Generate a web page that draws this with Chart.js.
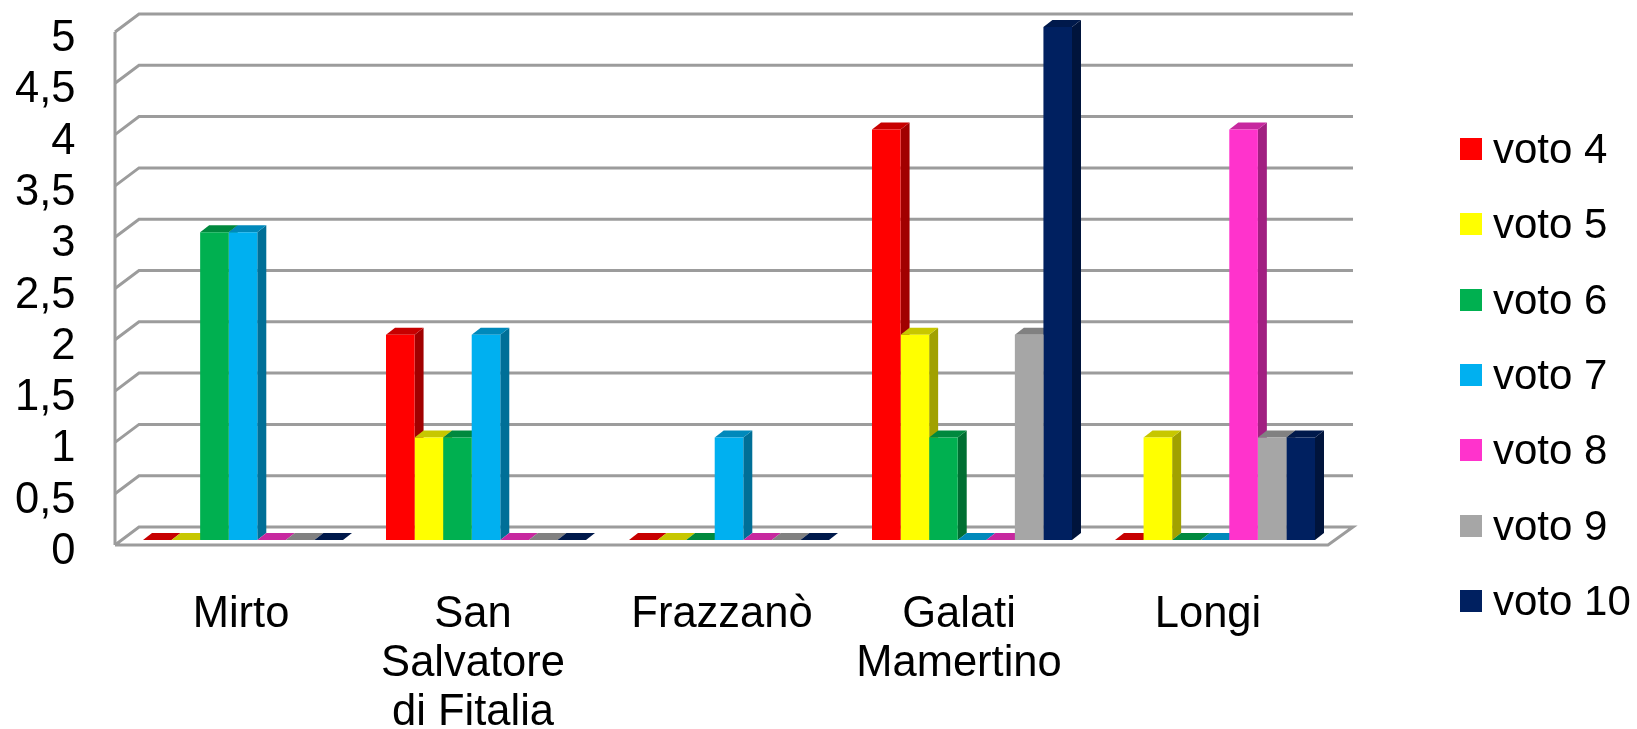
<!DOCTYPE html>
<html>
<head>
<meta charset="utf-8">
<title>Voti</title>
<script src="https://cdn.jsdelivr.net/npm/chart.js@4/dist/chart.umd.min.js"></script>
<style>
  html, body { margin: 0; padding: 0; background: #fff; }
  #wrap { position: relative; width: 1637px; height: 729px; overflow: hidden; filter: blur(0.6px); }
  #chart { position: absolute; left: 0; top: 0; }
  #legend { position: absolute; left: 1460px; top: 111.5px; margin: 0; padding: 0; list-style: none;
    font: 42px "Liberation Sans", Arial, sans-serif; color: #000; }
  #legend li { display: flex; align-items: center; height: 75.3px; white-space: nowrap; }
  #legend i { display: block; width: 22px; height: 22px; margin-right: 11px; }
</style>
</head>
<body>
<div id="wrap">
  <canvas id="chart" width="1637" height="729"></canvas>
  <ul id="legend"></ul>
</div>
<script>
var categories = ['Mirto', ['San', 'Salvatore', 'di Fitalia'], 'Frazzanò', ['Galati', 'Mamertino'], 'Longi'];
var seriesNames = ['voto 4', 'voto 5', 'voto 6', 'voto 7', 'voto 8', 'voto 9', 'voto 10'];
var voto4 = [0, 2, 0, 4, 0];
var voto5 = [0, 1, 0, 2, 1];
var voto6 = [3, 1, 0, 1, 0];
var voto7 = [3, 2, 1, 0, 0];
var voto8 = [0, 0, 0, 0, 4];
var voto9 = [0, 0, 0, 2, 1];
var voto10 = [0, 0, 0, 5, 1];
var seriesValues = [voto4, voto5, voto6, voto7, voto8, voto9, voto10];
var seriesColors = ['#FF0000', '#FFFF00', '#00B050', '#00B0F0', '#FF33CC', '#A6A6A6', '#002060'];
var yTickLabels = ['0', '0,5', '1', '1,5', '2', '2,5', '3', '3,5', '4', '4,5', '5'];

var FONT = '"Liberation Sans", Arial, sans-serif';
var GRID_COLOR = '#9c9c9c';
// the original labels do not sit exactly under their groups
var xLabelNudge = [-2, -13, -7, -13, -7];

// darken a #rrggbb colour, used for the sides and tops of the bars
function shade(hex, k) {
  var r = parseInt(hex.substr(1, 2), 16);
  var g = parseInt(hex.substr(3, 2), 16);
  var b = parseInt(hex.substr(5, 2), 16);
  return 'rgb(' + Math.round(r * k) + ',' + Math.round(g * k) + ',' + Math.round(b * k) + ')';
}

function polygon(ctx, pts, color) {
  ctx.fillStyle = color;
  ctx.beginPath();
  ctx.moveTo(pts[0][0], pts[0][1]);
  for (var i = 1; i < pts.length; i++) {
    ctx.lineTo(pts[i][0], pts[i][1]);
  }
  ctx.closePath();
  ctx.fill();
}

// tall tick labels must not eat into the plot area
function dropScalePadding(scale) {
  scale.paddingTop = 0;
  scale.paddingBottom = 0;
  scale.paddingLeft = 0;
  scale.paddingRight = 0;
}

// walls of the fake 3d box, from the real scales
var framePlugin = {
  id: 'frame',
  beforeDatasetsDraw: function (chart) {
    var ctx = chart.ctx;
    var xs = chart.scales.x;
    var ys = chart.scales.y;
    var frontL = xs.left - 6.5, frontR = xs.right - 8.5;
    var backL = xs.left + 17.5, backR = xs.right + 16.5;
    ctx.save();
    ctx.strokeStyle = GRID_COLOR;
    ctx.lineWidth = 3;
    ctx.lineJoin = 'miter';
    ys.ticks.forEach(function (t) {
      var y = ys.getPixelForValue(t.value);
      ctx.beginPath();
      ctx.moveTo(frontL, y + 5);
      ctx.lineTo(backL, y - 13);
      ctx.lineTo(backR, y - 13);
      if (t.value === 0) {
        ctx.lineTo(frontR, y + 5);
        ctx.lineTo(frontL, y + 5);
      }
      ctx.stroke();
    });
    ctx.beginPath();
    ctx.moveTo(frontL, ys.getPixelForValue(5) + 5);
    ctx.lineTo(frontL, ys.getPixelForValue(0) + 5);
    ctx.stroke();
    ctx.restore();
  }
};

// top and side faces of every bar, before the library paints the fronts
var depthPlugin = {
  id: 'depth',
  beforeDatasetsDraw: function (chart) {
    var ctx = chart.ctx;
    var dx = 9, dy = 7;
    chart.data.datasets.forEach(function (ds, i) {
      chart.getDatasetMeta(i).data.forEach(function (bar) {
        var l = bar.x - bar.width / 2;
        var r = bar.x + bar.width / 2;
        if (bar.base - bar.y > 0.5) {
          polygon(ctx, [[r, bar.y], [r + dx, bar.y - dy], [r + dx, bar.base - dy], [r, bar.base]], shade(ds.backgroundColor, 0.63));
        }
        polygon(ctx, [[l, bar.y], [l + dx, bar.y - dy], [r + dx, bar.y - dy], [r, bar.y]], shade(ds.backgroundColor, 0.78));
      });
    });
  }
};

var datasets = [];
seriesNames.forEach(function (name, i) {
  datasets.push({
    label: name,
    data: seriesValues[i],
    backgroundColor: seriesColors[i],
    barPercentage: 1,
    categoryPercentage: 200 / 243
  });
});

var chart = new Chart(document.getElementById('chart'), {
  type: 'bar',
  data: { labels: categories, datasets: datasets },
  plugins: [framePlugin, depthPlugin],
  options: {
    responsive: false,
    animation: false,
    layout: { autoPadding: false, padding: { left: 0, top: 27, right: 300.5, bottom: 0 } },
    plugins: { legend: { display: false }, tooltip: { enabled: false } },
    scales: {
      x: {
        afterFit: function (scale) {
          scale.height = 189;
          dropScalePadding(scale);
          if (!scale.nudged) {
            var compute = scale._computeLabelItems;
            scale._computeLabelItems = function (area) {
              var items = compute.call(scale, area);
              items.forEach(function (item, i) {
                item.options.translation[0] += xLabelNudge[i];
              });
              return items;
            };
            scale.nudged = true;
          }
        },
        grid: { display: false, drawTicks: false },
        border: { display: false },
        ticks: {
          color: '#000',
          padding: 50,
          autoSkip: false,
          maxRotation: 0,
          font: { family: FONT, size: 43.5, lineHeight: 1.13 }
        }
      },
      y: {
        min: 0,
        max: 5,
        afterFit: function (scale) {
          scale.width = 121.5;
          dropScalePadding(scale);
        },
        grid: { display: false, drawTicks: false },
        border: { display: false },
        ticks: {
          color: '#000',
          stepSize: 0.5,
          padding: 46,
          labelOffset: 12,
          autoSkip: false,
          font: { family: FONT, size: 43.5 },
          callback: function (value, index) { return yTickLabels[index]; }
        }
      }
    }
  }
});

// html legend so the swatch/text gap can follow the picture
var legendEl = document.getElementById('legend');
chart.data.datasets.forEach(function (ds) {
  var li = document.createElement('li');
  var box = document.createElement('i');
  box.style.background = ds.backgroundColor;
  li.appendChild(box);
  li.appendChild(document.createTextNode(ds.label));
  legendEl.appendChild(li);
});
</script>
</body>
</html>
